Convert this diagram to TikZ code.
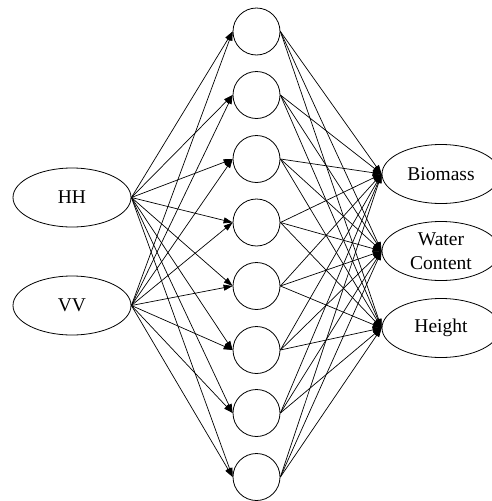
\documentclass[tikz,border=0pt]{standalone}
\usepackage{fontspec}
\setmainfont{Liberation Serif}
\usetikzlibrary{shapes.geometric,arrows.meta}
\begin{document}
\begin{tikzpicture}[x=1pt,y=-1pt,
  inp/.style={draw,ellipse,minimum width=118pt,minimum height=59pt,inner sep=0pt,line width=0.8pt,font=\fontsize{19.5}{24}\selectfont},
  hid/.style={draw,circle,minimum size=47pt,inner sep=0pt,line width=0.8pt},
  arr/.style={line width=0.7pt,-{Triangle[length=9pt,width=6pt]}}]
\useasboundingbox (0,0) rectangle (492,501);
\node[inp] (hh) at (72,197.5) {HH};
\node[inp] (vv) at (72,305.5) {VV};
\foreach \i/\y in {1/31.5,2/95,3/159,4/222.5,5/286,6/350,7/413,8/477}
  \node[hid] (h\i) at (256.5,\y) {};
\node[inp] (o1) at (441,174) {Biomass};
\node[inp,align=center] (o2) at (441,251) {Water\\Content};
\node[inp] (o3) at (441,328) {Height};
\foreach \i in {1,...,8} {
  \draw[arr] (hh.east) -- (h\i.west);
  \draw[arr] (vv.east) -- (h\i.west);
  \foreach \o in {1,2,3}
    \draw[arr] (h\i.east) -- (o\o.west);
}
\end{tikzpicture}
\end{document}
